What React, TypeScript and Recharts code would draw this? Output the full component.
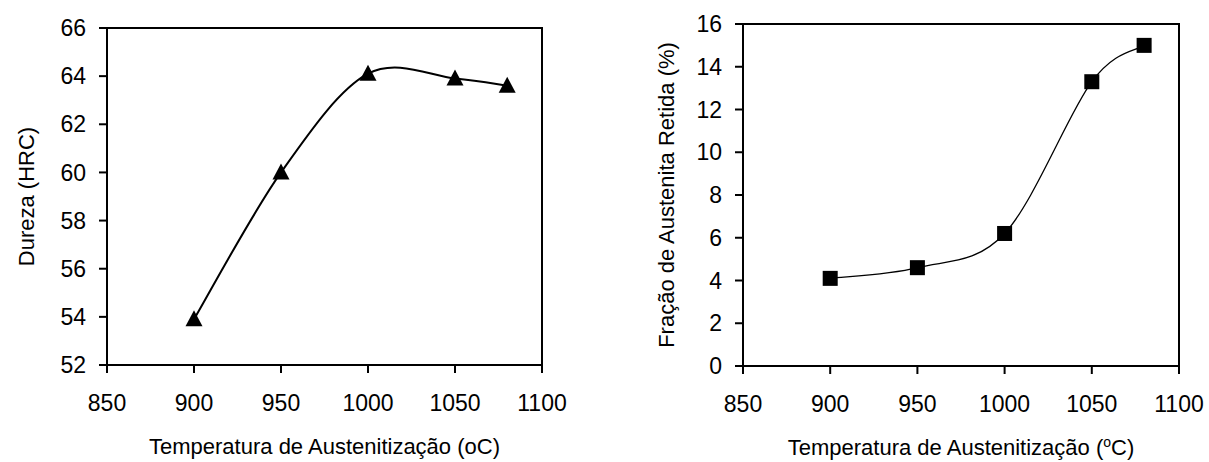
import React from "react";
import {
  LineChart,
  Line,
  XAxis,
  YAxis,
  ReferenceArea,
  Label,
} from "recharts";

const temps = [900, 950, 1000, 1050, 1080];
const hardness = [53.9, 60.0, 64.1, 63.9, 63.6];
const retained = [4.1, 4.6, 6.2, 13.3, 15.0];
const tempTicks = [850, 900, 950, 1000, 1050, 1100];
const hardnessTicks = [52, 54, 56, 58, 60, 62, 64, 66];
const retainedTicks = [0, 2, 4, 6, 8, 10, 12, 14, 16];

const hardnessData = temps.map((t, i) => ({ t, v: hardness[i] }));
const retainedData = temps.map((t, i) => ({ t, v: retained[i] }));

const FONT = "'Liberation Sans', Arial, sans-serif";
const tickStyle = { fontSize: 23, fill: "#000", fontFamily: FONT };

// smoothed line like the spreadsheet one: cubic Bezier with catmull-rom style handles
const smoothCurve = (context: any) => {
  let pts: number[][] = [];
  return {
    areaStart() {},
    areaEnd() {},
    lineStart() {
      pts = [];
    },
    point(x: number, y: number) {
      pts.push([+x, +y]);
    },
    lineEnd() {
      const n = pts.length;
      if (!n) return;
      context.moveTo(pts[0][0], pts[0][1]);
      for (let i = 0; i < n - 1; i++) {
        const p0 = pts[Math.max(i - 1, 0)];
        const p1 = pts[i];
        const p2 = pts[i + 1];
        const p3 = pts[Math.min(i + 2, n - 1)];
        context.bezierCurveTo(
          p1[0] + (p2[0] - p0[0]) / 6,
          p1[1] + (p2[1] - p0[1]) / 6,
          p2[0] - (p3[0] - p1[0]) / 6,
          p2[1] - (p3[1] - p1[1]) / 6,
          p2[0],
          p2[1]
        );
      }
    },
  };
};

const Triangle = (props: any) => {
  const { cx, cy, index } = props;
  return (
    <path
      key={`tri-${index}`}
      d={`M${cx},${cy - 9} L${cx + 8.5},${cy + 7} L${cx - 8.5},${cy + 7} Z`}
      fill="#000"
    />
  );
};

const Square = (props: any) => {
  const { cx, cy, index } = props;
  return <rect key={`sq-${index}`} x={cx - 7.5} y={cy - 7.5} width={15} height={15} fill="#000" />;
};

const xTitle = (sup: boolean) => (props: any) => {
  const { x, y, width } = props.viewBox;
  return (
    <text x={x + width / 2} y={y + 89} textAnchor="middle" fontSize={22} fontFamily={FONT} fill="#000">
      {sup ? (
        <>
          <tspan>Temperatura de Austenitização (</tspan>
          <tspan dy={-8} fontSize={14}>o</tspan>
          <tspan dy={8}>C)</tspan>
        </>
      ) : (
        "Temperatura de Austenitização (oC)"
      )}
    </text>
  );
};

// rotated axis title; dx is the baseline offset from the axis box's left side
const yTitle = (text: string, dx: number) => (props: any) => {
  const { x, y, height } = props.viewBox;
  const cx = x + dx;
  const cy = y + height / 2;
  return (
    <text
      x={cx}
      y={cy}
      transform={`rotate(-90, ${cx}, ${cy})`}
      textAnchor="middle"
      fontSize={22}
      fontFamily={FONT}
      fill="#000"
    >
      {text}
    </text>
  );
};

export default function App() {
  return (
    <div style={{ position: "absolute", left: 0, top: 0, width: 1209, height: 462, background: "#fff" }}>
      <div style={{ position: "absolute", left: 0, top: 0 }}>
        <LineChart width={600} height={462} data={hardnessData} margin={{ top: 28, right: 58, bottom: 37, left: 27 }}>
          <XAxis
            dataKey="t"
            type="number"
            domain={[850, 1100]}
            ticks={tempTicks}
            height={60}
            tick={tickStyle}
            tickSize={8}
            tickMargin={22}
            stroke="#000"
            strokeWidth={2}
          >
            <Label content={xTitle(false)} />
          </XAxis>
          <YAxis
            type="number"
            domain={[52, 66]}
            ticks={hardnessTicks}
            width={80}
            tick={tickStyle}
            tickSize={8}
            tickMargin={13}
            stroke="#000"
            strokeWidth={2}
          >
            <Label content={yTitle("Dureza (HRC)", 7)} />
          </YAxis>
          <ReferenceArea x1={850} x2={1100} y1={52} y2={66} fill="none" stroke="#000" strokeWidth={2} strokeOpacity={1} fillOpacity={0} />
          <Line
            dataKey="v"
            type={smoothCurve as any}
            stroke="#000"
            strokeWidth={2}
            dot={Triangle}
            activeDot={false}
            isAnimationActive={false}
          />
        </LineChart>
      </div>
      <div style={{ position: "absolute", left: 600, top: 0 }}>
        <LineChart width={609} height={462} data={retainedData} margin={{ top: 24, right: 30, bottom: 36, left: 63 }}>
          <XAxis
            dataKey="t"
            type="number"
            domain={[850, 1100]}
            ticks={tempTicks}
            height={60}
            tick={tickStyle}
            tickSize={8}
            tickMargin={22}
            stroke="#000"
            strokeWidth={2}
          >
            <Label content={xTitle(true)} />
          </XAxis>
          <YAxis
            type="number"
            domain={[0, 16]}
            ticks={retainedTicks}
            width={80}
            tick={tickStyle}
            tickSize={8}
            tickMargin={13}
            stroke="#000"
            strokeWidth={2}
          >
            <Label content={yTitle("Fração de Austenita Retida (%)", 11)} />
          </YAxis>
          <ReferenceArea x1={850} x2={1100} y1={0} y2={16} fill="none" stroke="#000" strokeWidth={2} strokeOpacity={1} fillOpacity={0} />
          <Line
            dataKey="v"
            type={smoothCurve as any}
            stroke="#000"
            strokeWidth={1.3}
            dot={Square}
            activeDot={false}
            isAnimationActive={false}
          />
        </LineChart>
      </div>
    </div>
  );
}
